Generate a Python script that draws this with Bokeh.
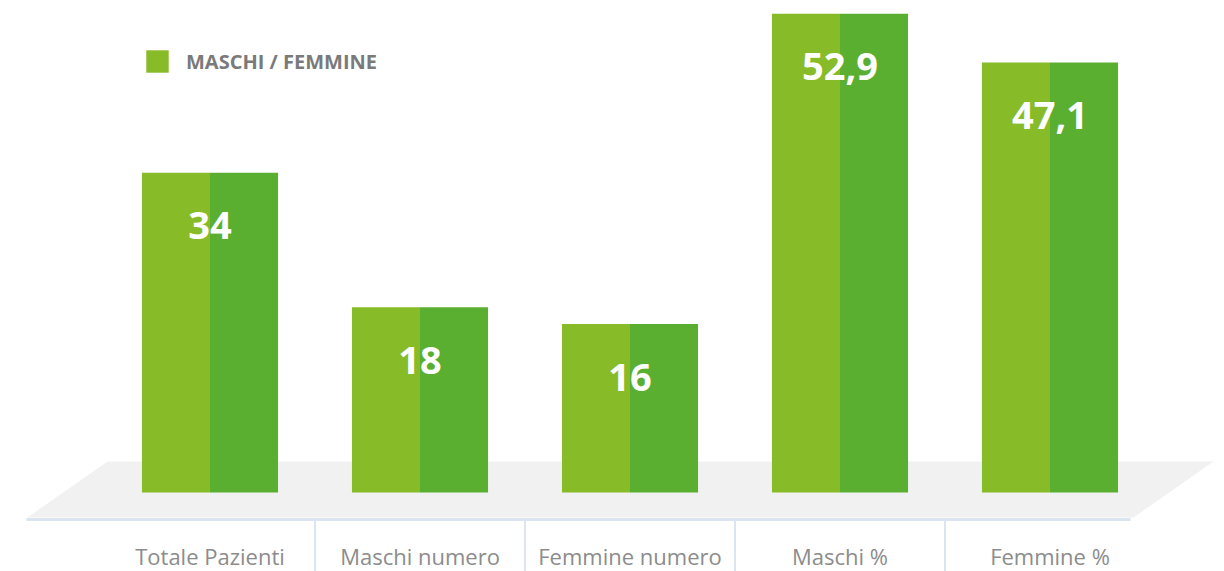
from bokeh.plotting import figure
from bokeh.models import Range1d, Legend, LegendItem, ColumnDataSource
from bokeh.core.properties import value
from bokeh.embed import file_html
from bokeh.resources import INLINE

# ---- data ----
categories = ["Totale Pazienti", "Maschi numero", "Femmine numero", "Maschi %", "Femmine %"]
values = [34, 18, 16, 52.9, 47.1]
value_labels = [f"{v:g}".replace(".", ",") for v in values]
legend_label = "MASCHI / FEMMINE"

# ---- styling constants ----
W, H = 1224, 571
PX_X = 210.0          # px per category
X0 = 209.5            # screen x of first category centre
PX_Y = 8.408          # px per value unit
Y0 = 458.1            # screen y of value 0
def xv(sx):
    return (sx - X0) / PX_X
def yv(sy):
    return (Y0 - sy) / PX_Y

LIGHT = "#87bb27"
DARK = "#5aaf31"
FLOOR = "#f1f1f1"
LINE = "#dae5f1"
BASE = yv(492)        # bar bottom (3D base)
HALF = 0.324

p = figure(width=W, height=H, output_backend="svg", toolbar_location=None,
           x_range=Range1d(xv(0), xv(W)), y_range=Range1d(yv(H), yv(0)),
           x_axis_type=None, y_axis_type=None, min_border=0)
p.outline_line_color = None
p.grid.visible = False
p.background_fill_color = "white"

# floor
p.patch([xv(27), xv(107), xv(1213), xv(1133)], [yv(517), yv(461), yv(461), yv(517)],
        fill_color=FLOOR, line_color=None)
p.line([xv(26), xv(1130)], [yv(519), yv(519)], line_color=LINE, line_width=3)

n = len(categories)
xs = list(range(n))
src = ColumnDataSource(dict(x=xs, left=[i - HALF for i in xs], right=[i + HALF for i in xs],
                            top=values, lab=value_labels, cat=categories,
                            bottom=[BASE] * n))
r_left = p.quad(left="left", right="x", top="top", bottom="bottom", source=src,
                fill_color=LIGHT, line_color=None)
p.quad(left="x", right="right", top="top", bottom="bottom", source=src,
       fill_color=DARK, line_color=None)

# value labels
p.text(x="x", y="top", text="lab", source=src, y_offset=53,
       text_align="center", text_baseline="middle", text_color="white",
       text_font=value("Open Sans"), text_font_style="bold", text_font_size="38px")

# separators
for i in range(n - 1):
    p.line([i + 0.5, i + 0.5], [yv(520), yv(580)], line_color=LINE, line_width=2)

# category labels
p.text(x="x", y=yv(555), text="cat", source=src,
       text_align="center", text_baseline="middle", text_color="#8c8c8c",
       text_font=value("Open Sans"), text_font_size="22px")

legend = Legend(items=[LegendItem(label=legend_label, renderers=[r_left])],
                location=(143, H - 75), glyph_width=28, glyph_height=28,
                label_standoff=15, padding=0, margin=0, spacing=0,
                label_text_font="Open Sans", label_text_font_style="bold",
                label_text_font_size="20px", label_text_color="#7a7a7a",
                border_line_color=None, background_fill_alpha=0)
p.add_layout(legend, "center")

open("out.html", "w").write(file_html(p, INLINE))
